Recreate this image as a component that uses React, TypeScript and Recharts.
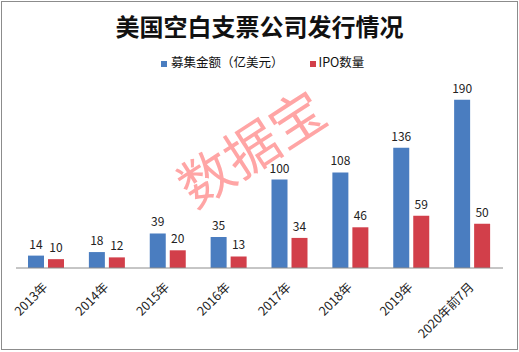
import { BarChart, Bar, XAxis, YAxis, LabelList } from 'recharts';

const categories = ['2013年', '2014年', '2015年', '2016年', '2017年', '2018年', '2019年', '2020年前7月'];
const amount = [14, 18, 39, 35, 100, 108, 136, 190];
const ipoCount = [10, 12, 20, 13, 34, 46, 59, 50];

const data = categories.map((name, i) => ({ name, amount: amount[i], ipo: ipoCount[i] }));

const BLUE = '#4a7dc0';
const RED = '#d23f4a';
const FONT = '"Noto Sans CJK SC", "Noto Sans", sans-serif';

function RotatedTick(props: any) {
  const { x, y, payload } = props;
  return (
    <text
      x={x + 2}
      y={y + 12}
      textAnchor="end"
      fontSize={12.5}
      fontFamily={FONT}
      fill="#222"
      transform={`rotate(-45, ${x + 2}, ${y + 12})`}
    >
      {payload.value}
    </text>
  );
}

export default function App() {
  return (
    <div style={{ position: 'absolute', left: 0, top: 0, width: 519, height: 352, background: '#fff', fontFamily: FONT }}>
      <div
        style={{
          position: 'absolute',
          left: 1,
          top: 1,
          width: 515,
          height: 347,
          border: '1px solid #8c8c8c',
        }}
      />
      <div
        style={{
          position: 'absolute',
          left: 250,
          top: 146,
          fontSize: 54,
          lineHeight: 1,
          color: '#ff9c9c',
          transform: 'translate(-50%, -50%) rotate(-33deg)',
          whiteSpace: 'nowrap',
          opacity: 0.9,
        }}
      >
        数据宝
      </div>
      <div
        style={{
          position: 'absolute',
          left: 0,
          top: 8,
          width: 519,
          textAlign: 'center',
          fontSize: 24,
          fontWeight: 'bold',
          color: '#111',
        }}
      >
        美国空白支票公司发行情况
      </div>
      <div
        style={{
          position: 'absolute',
          left: 161,
          top: 52,
          fontSize: 12.5,
          color: '#111',
          display: 'flex',
          alignItems: 'center',
          whiteSpace: 'nowrap',
        }}
      >
        <span style={{ display: 'inline-block', width: 6, height: 6, background: BLUE, marginRight: 4, marginTop: 4 }} />
        <span>募集金额（亿美元）</span>
        <span style={{ display: 'inline-block', width: 6, height: 6, background: RED, marginLeft: 26, marginRight: 3, marginTop: 4 }} />
        <span>IPO数量</span>
      </div>
      <div style={{ position: 'absolute', left: 0, top: 0 }}>
        <BarChart
          width={519}
          height={352}
          data={data}
          margin={{ top: 91, right: 16, left: 16, bottom: 0 }}
          barSize={16}
          barGap={4}
        >
          <XAxis
            dataKey="name"
            height={84}
            interval={0}
            tickLine={false}
            axisLine={{ stroke: '#8c8c8c' }}
            tick={<RotatedTick />}
          />
          <YAxis hide domain={[0, 200]} />
          <Bar dataKey="amount" fill={BLUE} isAnimationActive={false}>
            <LabelList dataKey="amount" position="top" offset={7} fontSize={12} fill="#222" fontFamily={FONT} />
          </Bar>
          <Bar dataKey="ipo" fill={RED} isAnimationActive={false}>
            <LabelList dataKey="ipo" position="top" offset={7} fontSize={12} fill="#222" fontFamily={FONT} />
          </Bar>
        </BarChart>
      </div>
    </div>
  );
}
